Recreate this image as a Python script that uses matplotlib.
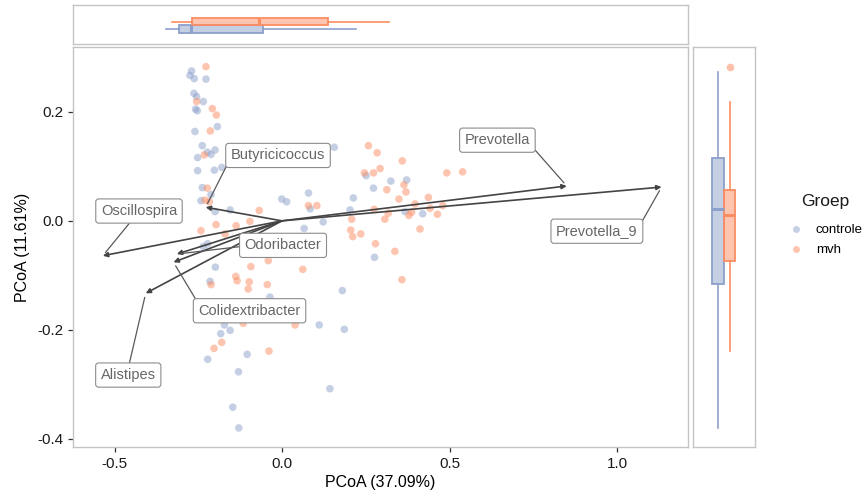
"""
PCoA biplot with marginal boxplots per group (controle vs mvh)
"""
import matplotlib
matplotlib.use("Agg")
from matplotlib import pyplot as plt
from matplotlib.lines import Line2D

plt.rcParams["font.family"] = ["Liberation Sans", "DejaVu Sans"]

GROUPS = ["controle", "mvh"]
COLORS = {"controle": "#8DA0CB", "mvh": "#FC8D62"}

# sample scores (axis 1, axis 2)
controle_x = [-0.270, -0.275, -0.262, -0.227, -0.263, -0.255, -0.235, -0.258, -0.253, -0.193,
              -0.260, -0.238, -0.252, -0.223, -0.212, -0.200, -0.252, -0.202, -0.180, -0.238,
              -0.212, -0.242, -0.200, -0.155, -0.001, 0.014, 0.079, 0.084, 0.066, 0.123,
              0.156, 0.251, 0.325, 0.372, 0.273, 0.213, 0.203, 0.367, 0.420, 0.276,
              -0.235, -0.222, -0.199, -0.215, -0.012, -0.036, -0.218, -0.185, -0.019, -0.172,
              -0.155, -0.183, 0.111, 0.186, 0.180, -0.104, -0.222, -0.130, -0.147, -0.129,
              0.143]
controle_y = [0.275, 0.267, 0.261, 0.260, 0.234, 0.228, 0.219, 0.205, 0.202, 0.173,
              0.164, 0.138, 0.116, 0.126, 0.122, 0.130, 0.092, 0.093, 0.098, 0.061,
              0.048, 0.037, 0.017, 0.020, 0.040, 0.035, 0.051, 0.022, -0.014, -0.002,
              0.135, 0.083, 0.073, 0.075, 0.060, 0.042, 0.020, 0.017, 0.013, -0.067,
              -0.047, -0.042, -0.085, -0.111, -0.057, -0.140, -0.151, -0.155, -0.179, -0.191,
              -0.201, -0.207, -0.191, -0.199, -0.128, -0.245, -0.254, -0.277, -0.342, -0.380,
              -0.308]
mvh_x = [-0.227, -0.255, -0.208, -0.196, -0.214, -0.232, -0.223, -0.230, -0.217, -0.068,
         -0.096, -0.137, -0.197, -0.242, -0.170, 0.079, 0.104, -0.041, -0.093, -0.138,
         -0.134, -0.098, -0.101, -0.044, 0.062, -0.212, -0.116, 0.039, -0.180, -0.203,
         -0.039, -0.245, 0.258, 0.284, 0.359, 0.246, 0.273, 0.293, 0.492, 0.539,
         0.364, 0.370, 0.313, 0.349, 0.437, 0.397, 0.442, 0.480, 0.275, 0.317,
         0.379, 0.387, 0.464, 0.307, 0.208, 0.205, 0.211, 0.235, 0.412, 0.279,
         0.337, 0.358]
mvh_y = [0.283, 0.219, 0.206, 0.194, 0.165, 0.121, 0.060, 0.038, 0.035, 0.019,
         -0.001, -0.009, -0.007, -0.018, -0.024, 0.028, 0.028, -0.073, -0.084, -0.102,
         -0.110, -0.112, -0.125, -0.117, -0.089, -0.117, -0.188, -0.191, -0.223, -0.234,
         -0.239, -0.158, 0.138, 0.125, 0.110, 0.088, 0.088, 0.096, 0.088, 0.090,
         0.066, 0.053, 0.057, 0.040, 0.043, 0.031, 0.023, 0.028, 0.021, 0.014,
         0.010, 0.016, 0.012, 0.003, 0.003, -0.017, -0.029, -0.024, -0.015, -0.042,
         -0.056, -0.108]

# taxa loadings (arrow tips) and label positions
taxa = ["Prevotella", "Prevotella_9", "Butyricicoccus", "Oscillospira",
        "Odoribacter", "Colidextribacter", "Alistipes"]
arrow_x = [0.850, 1.133, -0.228, -0.535, -0.314, -0.324, -0.407]
arrow_y = [0.064, 0.062, 0.025, -0.064, -0.061, -0.076, -0.133]
label_x = [0.643, 0.940, -0.012, -0.427, 0.003, -0.097, -0.459]
label_y = [0.148, -0.019, 0.120, 0.018, -0.045, -0.165, -0.283]
# where on each label box the connector segment leaves
label_anchor = [(1.0, 0.2), (1.0, 0.65), (0.0, 0.35), (0.43, 0.0),
                (0.0, 0.45), (0.0, 1.0), (0.5, 1.0)]

# marginal boxplot statistics: (whislo, q1, med, q3, whishi)
box_x = {"controle": (-0.275, -0.226, -0.185, 0.078, 0.418),
         "mvh": (-0.254, -0.180, 0.063, 0.317, 0.539)}
box_y = {"controle": (-0.380, -0.116, 0.021, 0.115, 0.274),
         "mvh": (-0.238, -0.073, 0.0105, 0.056, 0.218)}
fliers_y = {"controle": [], "mvh": [0.283]}

W, H = 863, 499
BORDER = "#C4C4C4"


def fig_rect(x0, y0, x1, y1):
    return [x0 / W, 1 - y1 / H, (x1 - x0) / W, (y1 - y0) / H]


def style_panel(ax):
    for sp in ax.spines.values():
        sp.set_color(BORDER)
        sp.set_linewidth(1.0)


def make_stats(vals, fliers=()):
    lo, q1, med, q3, hi = vals
    return {"whislo": lo, "q1": q1, "med": med, "q3": q3, "whishi": hi,
            "fliers": list(fliers)}


def draw_box(ax, group, vals, pos, vert, fliers=()):
    c = COLORS[group]
    bp = ax.bxp([make_stats(vals, fliers)], positions=[pos], widths=0.19,
                orientation="vertical" if vert else "horizontal",
                patch_artist=True, showcaps=False,
                boxprops=dict(facecolor=c, edgecolor=c, linewidth=1.3),
                whiskerprops=dict(color=c, linewidth=1.2),
                medianprops=dict(color=c, linewidth=2.2),
                flierprops=dict(marker="o", markerfacecolor=c, markeredgecolor="none",
                                markersize=5.5, alpha=0.55))
    for b in bp["boxes"]:
        b.set_facecolor(matplotlib.colors.to_rgba(c, 0.5))


fig = plt.figure(figsize=(W / 100, H / 100), dpi=100)
ax = fig.add_axes(fig_rect(73, 47, 688, 447))
ax_top = fig.add_axes(fig_rect(73, 5, 688, 44))
ax_right = fig.add_axes(fig_rect(693, 47, 755, 447))

# main scatter
ax.scatter(controle_x, controle_y, s=30, color=COLORS["controle"], alpha=0.5,
           edgecolors="none", zorder=2)
ax.scatter(mvh_x, mvh_y, s=30, color=COLORS["mvh"], alpha=0.5,
           edgecolors="none", zorder=2)

for name, ax_, ay_, lx, ly, rp in zip(taxa, arrow_x, arrow_y, label_x, label_y,
                                      label_anchor):
    ax.annotate("", xy=(ax_, ay_), xytext=(0, 0),
                arrowprops=dict(arrowstyle="-|>", color="#444444", lw=1.2,
                                mutation_scale=7, shrinkA=0, shrinkB=0), zorder=3)
    ax.annotate(name, xy=(ax_, ay_), xytext=(lx, ly), ha="center", va="center",
                fontsize=10.5, color="#666666", zorder=4,
                bbox=dict(boxstyle="round,pad=0.35,rounding_size=0.2", fc="white",
                          ec="#8C8C8C", lw=0.8),
                arrowprops=dict(arrowstyle="-", color="#595959", lw=0.9,
                                relpos=rp, shrinkA=0, shrinkB=3))

ax.set_xlim(-0.624, 1.212)
ax.set_ylim(-0.415, 0.319)
ax.set_xticks([-0.5, 0.0, 0.5, 1.0])
ax.set_xticklabels(["-0.5", "0.0", "0.5", "1.0"])
ax.set_yticks([-0.4, -0.2, 0.0, 0.2])
ax.set_yticklabels(["-0.4", "-0.2", "0.0", "0.2"])
ax.tick_params(labelsize=11, colors="#333333", length=3.5, width=0.9,
               labelcolor="#1a1a1a")
ax.set_xlabel("PCoA (37.09%)", fontsize=11.5, labelpad=3)
ax.set_ylabel("PCoA (11.61%)", fontsize=11.5, labelpad=5)
style_panel(ax)

# top marginal boxplots
draw_box(ax_top, "controle", box_x["controle"], 0.385, vert=False)
draw_box(ax_top, "mvh", box_x["mvh"], 0.57, vert=False)
ax_top.set_xlim(-0.614, 1.63)
ax_top.set_ylim(0, 1)
ax_top.set_xticks([])
ax_top.set_yticks([])
style_panel(ax_top)

# right marginal boxplots
draw_box(ax_right, "controle", box_y["controle"], 0.40, vert=True)
draw_box(ax_right, "mvh", box_y["mvh"], 0.59, vert=True, fliers=fliers_y["mvh"])
ax_right.set_ylim(ax.get_ylim())
ax_right.set_xlim(0, 1)
ax_right.set_xticks([])
ax_right.set_yticks([])
style_panel(ax_right)

# legend
handles = [Line2D([], [], marker="o", linestyle="none", markersize=5,
                  markerfacecolor=COLORS[g], markeredgecolor="none", alpha=0.5)
           for g in GROUPS]
fig.legend(handles, GROUPS, loc="upper left", bbox_to_anchor=(788 / W, 1 - 224 / H),
           frameon=False, fontsize=9.5, borderpad=0, borderaxespad=0,
           handletextpad=0.9, labelspacing=0.6, handlelength=1.2)
fig.text(801 / W, 1 - 201 / H, "Groep", fontsize=12.5, color="#1a1a1a",
         ha="left", va="center")

fig.savefig("out.png", dpi=100)
